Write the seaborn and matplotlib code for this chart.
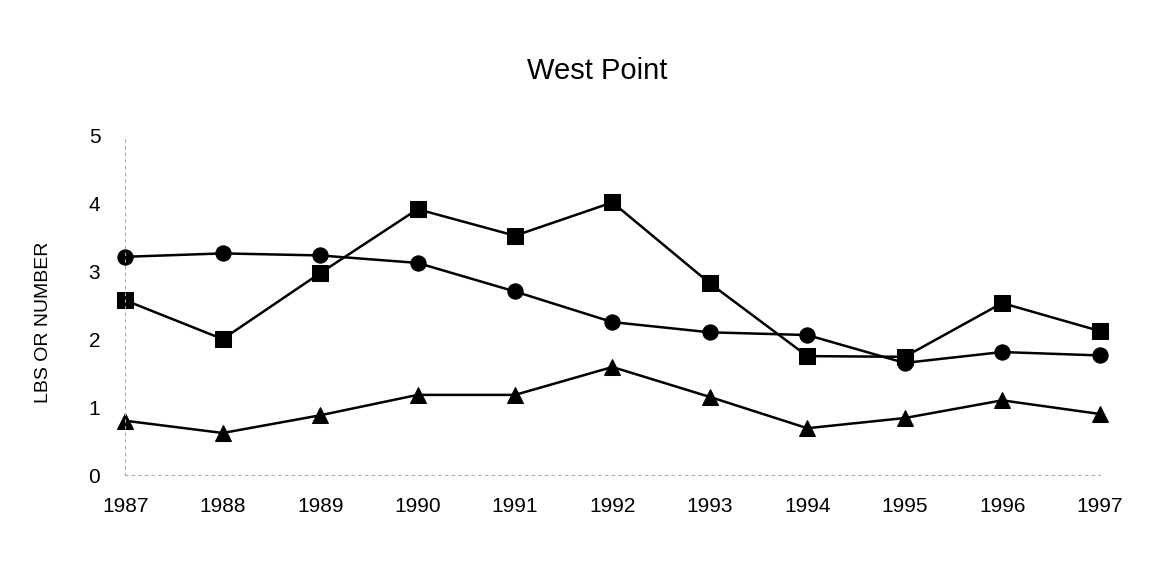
import numpy as np
import pandas as pd
import seaborn as sns
import matplotlib.pyplot as plt

years = [1987, 1988, 1989, 1990, 1991, 1992, 1993, 1994, 1995, 1996, 1997]
circles = [3.21, 3.26, 3.23, 3.12, 2.70, 2.25, 2.10, 2.06, 1.65, 1.81, 1.76]
squares = [2.57, 2.00, 2.97, 3.91, 3.52, 4.01, 2.82, 1.75, 1.74, 2.53, 2.12]
triangles = [0.80, 0.62, 0.88, 1.18, 1.18, 1.59, 1.15, 0.69, 0.84, 1.10, 0.90]

df = pd.concat([
    pd.DataFrame({"year": years, "value": circles, "series": "circle"}),
    pd.DataFrame({"year": years, "value": squares, "series": "square"}),
    pd.DataFrame({"year": years, "value": triangles, "series": "triangle"}),
])

sns.set_style("white")
plt.rcParams['font.family'] = ['Liberation Sans', 'DejaVu Sans']
plt.rcParams['text.color'] = 'black'
plt.rcParams['axes.labelcolor'] = 'black'
plt.rcParams['xtick.color'] = 'black'
plt.rcParams['ytick.color'] = 'black'

fig = plt.figure(figsize=(11.71, 5.65), dpi=100)
ax = fig.add_axes([0.107, 0.159, 0.832, 0.602])

sns.lineplot(
    data=df, x="year", y="value", hue="series", style="series",
    palette=["black", "black", "black"],
    markers={"circle": "o", "square": "s", "triangle": "^"},
    dashes=False, linewidth=1.8, markersize=11, markeredgecolor="black",
    legend=False, ax=ax
)

ax.set_xlim(1987, 1997)
ax.set_ylim(0, 5)
ax.set_xticks(years)
ax.set_yticks(range(6))
ax.set_xlabel("")
ax.set_ylabel("LBS OR NUMBER", fontsize=14)
ax.yaxis.set_label_coords(-0.075, 0.45)
fig.text(0.51, 0.875, "West Point", fontsize=21, ha="center", va="center")
ax.tick_params(axis="x", labelsize=15, pad=12, length=4, color="#999999", labelcolor="black")
ax.tick_params(axis="y", labelsize=15, pad=14, length=4, color="#999999", labelcolor="black")
for s in ["top", "right"]:
    ax.spines[s].set_visible(False)
for s in ["left", "bottom"]:
    ax.spines[s].set_linestyle((0, (2, 4)))
    ax.spines[s].set_color("#aaaaaa")
    ax.spines[s].set_linewidth(0.8)
for line in ax.lines:
    line.set_clip_on(False)

fig.savefig("out.png", dpi=100)
